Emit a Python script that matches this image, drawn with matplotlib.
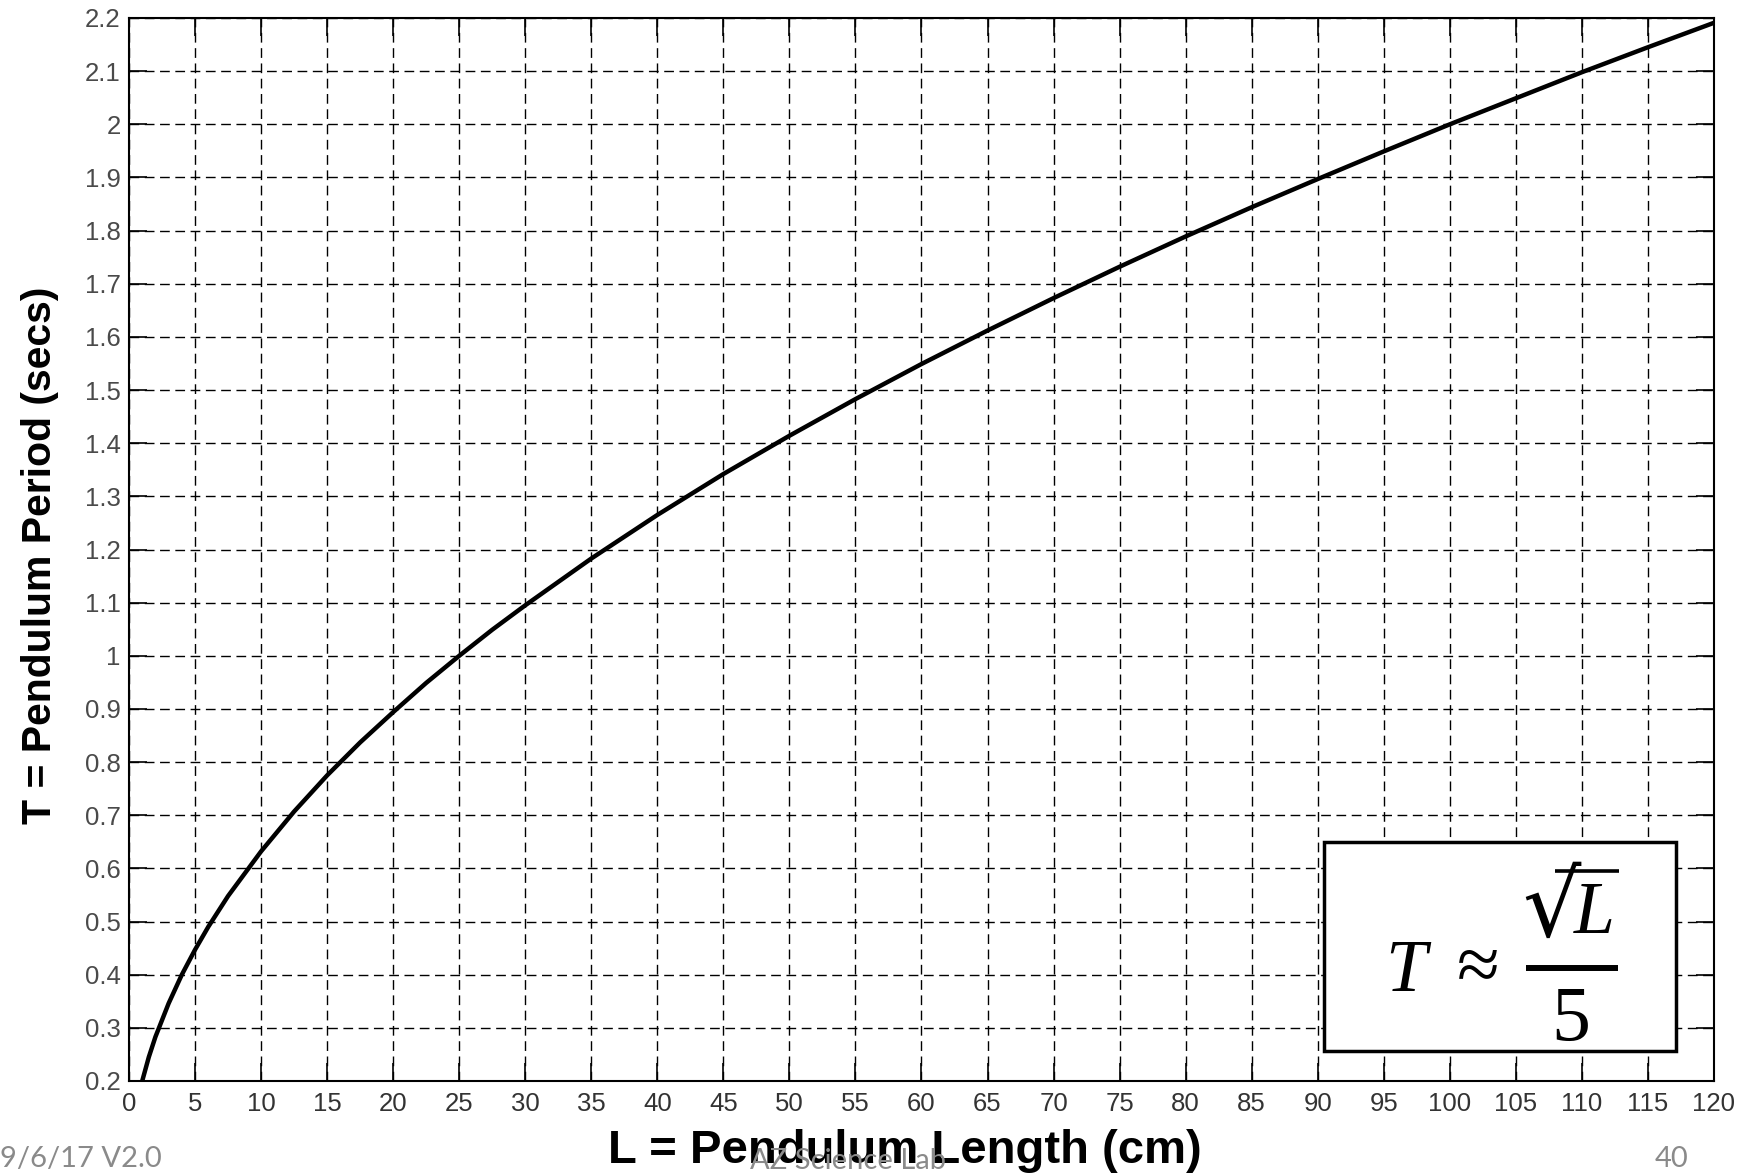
import matplotlib
matplotlib.use("Agg")
import matplotlib.pyplot as plt
from matplotlib.patches import Rectangle
from matplotlib.lines import Line2D

# ---- data ----
length_cm = [1, 1.5, 2, 3, 4, 5, 6, 7.5, 10, 12.5, 15, 17.5, 20, 22.5, 25, 27.5, 30,
             35, 40, 45, 50, 55, 60, 65, 70, 75, 80, 85, 90, 95, 100, 105, 110,
             115, 120]
period_s = [0.20, 0.245, 0.283, 0.346, 0.40, 0.447, 0.49, 0.548, 0.632, 0.707,
            0.775, 0.837, 0.894, 0.949, 1.00, 1.049, 1.095, 1.183, 1.265, 1.342,
            1.414, 1.483, 1.549, 1.612, 1.673, 1.732, 1.789, 1.844, 1.897, 1.949,
            2.00, 2.049, 2.098, 2.145, 2.191]
x_ticks = list(range(0, 121, 5))
y_ticks = [0.2, 0.3, 0.4, 0.5, 0.6, 0.7, 0.8, 0.9, 1.0, 1.1, 1.2, 1.3, 1.4,
           1.5, 1.6, 1.7, 1.8, 1.9, 2.0, 2.1, 2.2]
y_tick_labels = ["0.2", "0.3", "0.4", "0.5", "0.6", "0.7", "0.8", "0.9", "1",
                 "1.1", "1.2", "1.3", "1.4", "1.5", "1.6", "1.7", "1.8", "1.9",
                 "2", "2.1", "2.2"]

W, H = 1756, 1174
plt.rcParams["lines.scale_dashes"] = False

fig = plt.figure(figsize=(W / 100, H / 100), dpi=100)
ax = fig.add_axes([129 / W, 1 - 1081 / H, (1714 - 129) / W, (1081 - 18) / H])

ax.plot(length_cm, period_s, color="black", lw=3.2, zorder=3, solid_capstyle="butt")

ax.set_xlim(0, 120)
ax.set_ylim(0.2, 2.2)
ax.set_xticks(x_ticks)
ax.set_xticklabels([str(v) for v in x_ticks], fontfamily="Liberation Sans",
                   fontsize=18.5, color="#333333")
ax.set_yticks(y_ticks)
ax.set_yticklabels(y_tick_labels, fontfamily="Liberation Sans", fontsize=18.5,
                   color="#4a4a4a")

ax.grid(True, color="black", lw=1.0, linestyle=(0, (7, 4)))
ax.tick_params(axis="both", direction="in", length=13, width=1.2, top=True, right=True)
ax.tick_params(axis="x", pad=8)
ax.tick_params(axis="y", pad=6)
for s in ax.spines.values():
    s.set_linewidth(1.5)

ax.set_xlabel("L = Pendulum Length (cm)", fontfamily="Liberation Sans",
              fontweight="bold", fontsize=34)
ax.xaxis.set_label_coords(0.4896, -0.045)
ax.set_ylabel("T = Pendulum Period (secs)", fontfamily="Liberation Sans",
              fontweight="bold", fontsize=29.5)
ax.yaxis.set_label_coords(-0.044, 0.495)

# equation box
box = Rectangle((90.5, 0.256), 26.6, 0.394, facecolor="white", edgecolor="black",
                lw=2.5, zorder=5)
ax.add_patch(box)


def ftext(x, y, s, **kw):
    return fig.text(x / W, 1 - y / H, s, zorder=10, **kw)


def fline(xs, ys, **kw):
    fig.add_artist(Line2D([v / W for v in xs], [1 - v / H for v in ys],
                          transform=fig.transFigure, zorder=10, **kw))


serif = ["Liberation Serif", "DejaVu Serif"]
ftext(1406, 991, "T", family=serif, style="italic", fontsize=53, ha="center",
      va="baseline")
ftext(1478, 970, "\u2248", family=serif, fontsize=56, ha="center", va="center")
ftext(1522, 866, "\u221a", family=["DejaVu Serif"], fontsize=66, ha="left", va="top")
fline([1555, 1619], [871, 871], color="black", lw=2.6, solid_capstyle="butt")
ftext(1594, 933, "L", family=serif, style="italic", fontsize=53, ha="center",
      va="baseline")
fline([1526, 1618], [967.5, 967.5], color="black", lw=4.3, solid_capstyle="butt")
ftext(1571, 1040, "5", family=serif, fontsize=56, ha="center", va="baseline")

# slide footer
ftext(0, 1159, "9/6/17 V2.0", fontfamily="Lato", fontsize=21, color="#8a8a8a",
      ha="left", va="center")
ftext(848, 1161, "AZ Science Lab", fontfamily="Lato", fontsize=21, color="#8a8a8a",
      ha="center", va="center")
ftext(1672, 1159, "40", fontfamily="Lato", fontsize=21, color="#8a8a8a",
      ha="center", va="center")

fig.savefig("out.png", dpi=100, facecolor="white")
